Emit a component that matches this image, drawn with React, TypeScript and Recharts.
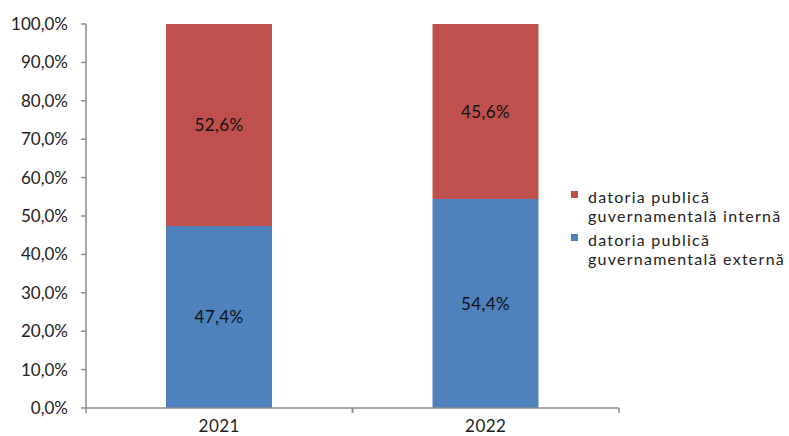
import React from 'react';
import { Bar, BarChart, LabelList, XAxis, YAxis } from 'recharts';

const years = ['2021', '2022'];
const externa = [47.4, 54.4];
const interna = [52.6, 45.6];
const yTicks = [0, 10, 20, 30, 40, 50, 60, 70, 80, 90, 100];

const seriesNames = {
  interna: 'datoria publică guvernamentală internă',
  externa: 'datoria publică guvernamentală externă',
};

const RED = '#C0504D';
const BLUE = '#4F81BD';
const AXIS = '#8c8c8c';
const FONT = 'Lato, "Open Sans", sans-serif';

const data = years.map((year, i) => ({ year, externa: externa[i], interna: interna[i] }));

const WIDTH = 789;
const HEIGHT = 436;
const margin = { top: 24, right: 170, bottom: 0, left: 0 };
const Y_WIDTH = 86;
const halfBand = (WIDTH - margin.right - Y_WIDTH) / years.length / 2;

const pct = (v: number) => `${v.toFixed(1).replace('.', ',')}%`;

// Excel puts the x ticks between categories, so draw them on both sides of each label
const YearTick = ({ x, y, payload }: { x: number; y: number; payload: { value: string } }) => (
  <g>
    <line x1={x - halfBand} x2={x - halfBand} y1={y} y2={y + 5} stroke={AXIS} strokeWidth={1.5} />
    <line x1={x + halfBand} x2={x + halfBand} y1={y} y2={y + 5} stroke={AXIS} strokeWidth={1.5} />
    <text x={x} y={y + 18} dy="0.35em" textAnchor="middle" fill="#222" fontSize={17} fontFamily={FONT} letterSpacing={0.5}>
      {payload.value}
    </text>
  </g>
);

const legendItems = [
  { name: seriesNames.interna, color: RED },
  { name: seriesNames.externa, color: BLUE },
];

export default function App() {
  return (
    <div style={{ position: 'absolute', left: 0, top: 0, width: WIDTH, height: HEIGHT, background: '#fff' }}>
      <BarChart width={WIDTH} height={HEIGHT} data={data} margin={margin}>
        <XAxis
          dataKey="year"
          axisLine={{ stroke: AXIS, strokeWidth: 1.5 }}
          tickLine={false}
          tickSize={0}
          tickMargin={0}
          tick={YearTick}
          height={28}
          interval={0}
        />
        <YAxis
          width={Y_WIDTH}
          domain={[0, 100]}
          ticks={yTicks}
          tickFormatter={pct}
          axisLine={{ stroke: AXIS, strokeWidth: 1.5 }}
          tickLine={{ stroke: AXIS, strokeWidth: 1.5 }}
          tickSize={5}
          tickMargin={13}
          tick={{ fill: '#222', fontSize: 17, fontFamily: FONT }}
        />
        <Bar dataKey="externa" stackId="a" fill={BLUE} barSize={106} isAnimationActive={false}>
          <LabelList
            dataKey="externa"
            position="center"
            formatter={(v: number) => pct(v)}
            fill="#111"
            fontSize={17}
            fontFamily={FONT}
            letterSpacing={0.4}
          />
        </Bar>
        <Bar dataKey="interna" stackId="a" fill={RED} barSize={106} isAnimationActive={false}>
          <LabelList
            dataKey="interna"
            position="center"
            formatter={(v: number) => pct(v)}
            fill="#111"
            fontSize={17}
            fontFamily={FONT}
            letterSpacing={0.4}
          />
        </Bar>
      </BarChart>
      <div
        style={{
          position: 'absolute',
          left: 570,
          top: 187,
          fontFamily: FONT,
          fontSize: 16,
          letterSpacing: 1.25,
          color: '#222',
          lineHeight: '19px',
          whiteSpace: 'nowrap',
        }}
      >
        {legendItems.map((item) => {
          const words = item.name.split(' ');
          return (
            <div key={item.name} style={{ position: 'relative', paddingLeft: 18, marginBottom: 5 }}>
              <span style={{ position: 'absolute', left: 1, top: 4, width: 7, height: 7, background: item.color }} />
              <div>{words.slice(0, 2).join(' ')}</div>
              <div>{words.slice(2).join(' ')}</div>
            </div>
          );
        })}
      </div>
    </div>
  );
}
